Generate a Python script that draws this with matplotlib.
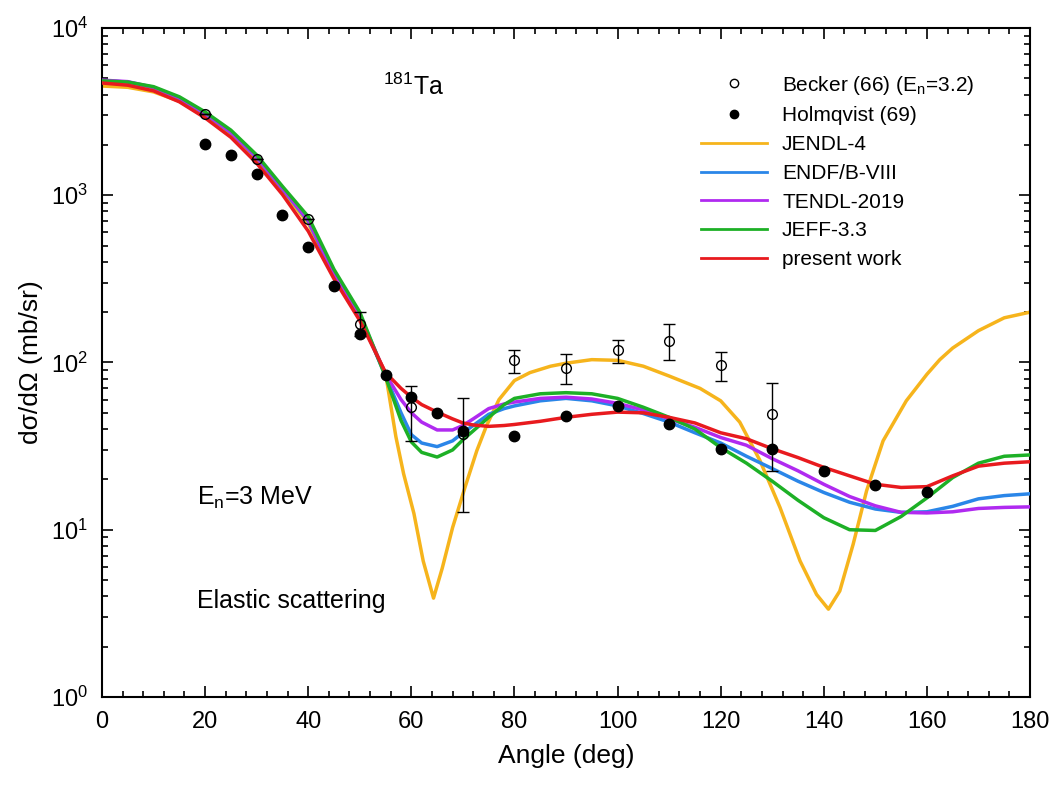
import matplotlib
matplotlib.use("Agg")
import matplotlib.pyplot as plt
from matplotlib.lines import Line2D
from matplotlib.ticker import MultipleLocator, LogLocator, NullFormatter

plt.rcParams["font.family"] = ["Liberation Sans", "DejaVu Sans"]
plt.rcParams["mathtext.fontset"] = "custom"
plt.rcParams["mathtext.rm"] = "Liberation Sans"
plt.rcParams["mathtext.it"] = "Liberation Sans:italic"
plt.rcParams["mathtext.bf"] = "Liberation Sans:bold"

# ------------------------
# Data
# ------------------------

# experimental: Becker (66), open circles with error bars
becker_ang = [20, 30, 40, 50, 60, 70, 80, 90, 100, 110, 120, 130]
becker_val = [3050, 1645, 718, 171, 54, 37.6, 103, 93, 118, 135, 97, 49]
becker_hi = [3050, 1645, 718, 200, 72, 61, 118, 112, 137, 169, 115, 75]
becker_lo = [3050, 1645, 718, 145, 34, 12.7, 87, 74, 99, 104, 77, 22.3]

# experimental: Holmqvist (69), filled circles
holm_ang = [20, 25, 30, 35, 40, 45, 50, 55, 60, 65, 70, 80, 90, 100, 110, 120, 130, 140, 150, 160]
holm_val = [2030, 1737, 1340, 766, 492, 286, 148, 84, 62, 50, 38.8, 36.5, 48, 54.6, 43, 30.5, 30.3, 22.6, 18.6, 16.9]

# evaluations on a common angle grid
ang = [0, 5, 10, 15, 20, 25, 30, 35, 40, 45, 50, 55, 58, 60, 62, 65, 68, 70, 72,
       75, 78, 80, 85, 90, 95, 100, 105, 110, 115, 120, 125, 130, 135, 140, 145,
       150, 155, 160, 165, 170, 175, 180]

endf = [4850, 4750, 4400, 3800, 3070, 2370, 1680, 1090, 700, 335, 190, 83, 50, 37,
        33, 31.4, 34, 38, 42, 49, 53, 55, 59, 61, 59, 55, 49.5, 44, 38, 33, 27.5,
        23.2, 19.5, 16.7, 14.6, 13.3, 12.7, 12.8, 13.8, 15.3, 16, 16.4]

tendl = [4880, 4780, 4420, 3820, 3090, 2380, 1690, 1100, 710, 340, 192, 85, 60, 50,
         44, 39.5, 39.5, 42, 46, 53, 56.5, 58, 61, 62, 60.5, 57, 52, 46, 41, 35.6,
         32, 26.6, 22.5, 18.7, 15.8, 13.9, 12.7, 12.6, 12.8, 13.4, 13.6, 13.7]

jeff = [4830, 4750, 4460, 3880, 3150, 2450, 1740, 1130, 745, 360, 200, 82, 45, 33.5,
        29, 27.2, 30, 34.5, 39, 47, 56, 61, 65, 66, 65, 61, 54, 47, 40, 31, 25, 19.5,
        15, 11.8, 10, 9.9, 12, 15.5, 20.5, 25, 27.5, 28]

present = [4690, 4550, 4210, 3620, 2900, 2220, 1555, 1010, 610, 316, 178, 87, 70, 62,
           56, 50.5, 46, 43.5, 42.3, 41.5, 42, 42.6, 44.5, 47, 49, 50.5, 50, 47, 43.5,
           38, 35, 30.5, 27, 23.6, 21, 18.7, 17.9, 18.1, 21, 24, 25, 25.5]

# JENDL-4 has two deep minima, so its own denser grid
jendl_ang = [0, 5, 10, 15, 20, 25, 30, 35, 40, 45, 50, 55, 57, 58.5, 60.5, 62.3,
             64.3, 66, 68, 70.4, 72.7, 74.6, 77, 80, 83, 87, 90, 95, 100, 105, 110,
             116, 120, 123.7, 127.6, 131.5, 135.4, 138.6, 140.9, 143.1, 145.7, 148.3,
             151.5, 156, 160, 162.5, 165, 170, 175, 180]
jendl = [4500, 4420, 4150, 3650, 2950, 2280, 1620, 1060, 680, 330, 185, 86, 36,
         21.6, 12.5, 6.5, 3.9, 5.9, 10.3, 17.9, 29.7, 42, 60, 78, 87, 95, 99, 104,
         103, 95, 83, 70, 59, 44, 26, 13.6, 6.5, 4.1, 3.35, 4.3, 8.2, 17.1, 34, 59,
         85, 104, 122, 155, 185, 200]

# ------------------------
# Plot
# ------------------------

fig = plt.figure(figsize=(10.56, 7.87), dpi=100)
ax = fig.add_axes([0.0966, 0.1144, 0.8788, 0.85])

lw = 2.5
ax.plot(jendl_ang, jendl, color="#F6B41C", lw=lw, zorder=2)
ax.plot(ang, endf, color="#2A86E8", lw=lw, zorder=3)
ax.plot(ang, tendl, color="#B02AF0", lw=lw, zorder=3)
ax.plot(ang, jeff, color="#1DB026", lw=lw, zorder=3)
ax.plot(ang, present, color="#E81A1E", lw=lw, zorder=4)

err_lo = [v - lo for v, lo in zip(becker_val, becker_lo)]
err_hi = [hi - v for v, hi in zip(becker_val, becker_hi)]
ax.errorbar(becker_ang, becker_val, yerr=[err_lo, err_hi], fmt="o", mfc="none",
            mec="black", ecolor="black", mew=1.0, ms=7, elinewidth=1.0,
            capsize=4, capthick=1.0, zorder=5)
ax.plot(holm_ang, holm_val, "o", color="black", ms=7.5, zorder=6)

ax.set_yscale("log")
ax.set_xlim(0, 180)
ax.set_ylim(1, 1e4)
ax.xaxis.set_major_locator(MultipleLocator(20))
ax.xaxis.set_minor_locator(MultipleLocator(4))
ax.yaxis.set_major_locator(LogLocator(base=10, numticks=10))
ax.yaxis.set_minor_locator(LogLocator(base=10, subs=range(2, 10), numticks=10))
ax.yaxis.set_minor_formatter(NullFormatter())

ax.tick_params(which="both", direction="in", top=True, right=True, width=1.2)
ax.tick_params(which="major", length=8, labelsize=17)
ax.tick_params(axis="x", which="major", pad=10)
ax.tick_params(axis="y", which="major", pad=10)
ax.tick_params(which="minor", length=4)
for s in ax.spines.values():
    s.set_linewidth(1.5)

ax.set_xlabel("Angle (deg)", fontsize=19, labelpad=8)
ax.set_ylabel("dσ/dΩ (mb/sr)", fontsize=19, labelpad=6)

ax.text(54.5, 4450, "$^{181}$Ta", fontsize=18, va="center", ha="left")
ax.text(18.4, 15.6, "E$_{\\rm n}$=3 MeV", fontsize=18, va="center", ha="left")
ax.text(18.4, 3.76, "Elastic scattering", fontsize=18, va="center", ha="left")

handles = [
    Line2D([], [], ls="none", marker="o", mfc="none", mec="black", ms=6, mew=1.0),
    Line2D([], [], ls="none", marker="o", color="black", ms=6),
    Line2D([], [], color="#F6B41C", lw=2),
    Line2D([], [], color="#2A86E8", lw=2),
    Line2D([], [], color="#B02AF0", lw=2),
    Line2D([], [], color="#1DB026", lw=2),
    Line2D([], [], color="#E81A1E", lw=2),
]
labels = ["Becker (66) (E$_{\\rm n}$=3.2)", "Holmqvist (69)", "JENDL-4",
          "ENDF/B-VIII", "TENDL-2019", "JEFF-3.3", "present work"]
ax.legend(handles, labels, loc="upper left", bbox_to_anchor=(0.625, 0.96),
          frameon=False, fontsize=15, handlelength=3.2, handletextpad=0.7,
          labelspacing=0.47, numpoints=1)

fig.savefig("out.png", dpi=100)
